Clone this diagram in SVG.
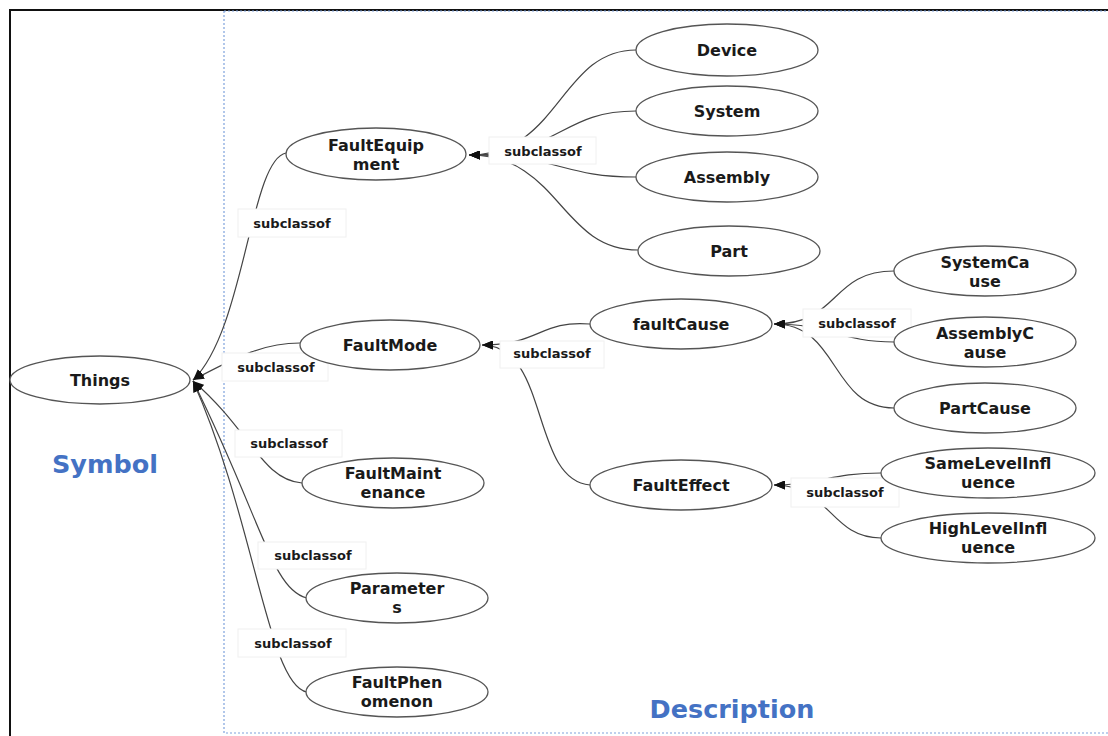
<svg xmlns="http://www.w3.org/2000/svg" width="1108" height="736" viewBox="0 0 1108 736">
<style>
.node ellipse{fill:#fff;stroke:#555;stroke-width:1.3}
.node text{font-family:"DejaVu Sans","Noto Sans",sans-serif;font-weight:bold;font-size:16px;fill:#1a1a1a;text-anchor:middle}
.edge{fill:none;stroke:#444;stroke-width:1.2;marker-end:url(#arr)}
.lbl rect{fill:#fff;stroke:#f0f0f0;stroke-width:1}
.lbl text{font-family:"DejaVu Sans","Noto Sans",sans-serif;font-weight:bold;font-size:13px;fill:#1a1a1a;text-anchor:middle}
.title{font-family:"DejaVu Sans","Noto Sans",sans-serif;font-weight:bold;font-size:25.5px;fill:#4472C4;text-anchor:middle}
</style>
<defs>
<marker id="arr" markerUnits="userSpaceOnUse" markerWidth="11" markerHeight="9" refX="11" refY="4.5" orient="auto">
<path d="M0,0 L11,4.5 L0,9 z" fill="#111"/>
</marker>
</defs>
<rect x="0" y="0" width="1108" height="736" fill="#fff"/>
<path d="M10,736 L10,10 L1108,10" fill="none" stroke="#111" stroke-width="2"/>
<path d="M224,11 L224,733 L1108,733 M224,11 L1108,11" fill="none" stroke="#7fa2dc" stroke-width="1.2" stroke-dasharray="2,2"/>
<g id="connectors">
<path class="edge" d="M286,153 C250,160 245,330 193,380"/>
<path class="edge" d="M300,343 C265,343 240,355 193,380"/>
<path class="edge" d="M302,483 C262,480 250,430 193,381"/>
<path class="edge" d="M307,598 C272,590 262,520 193,381"/>
<path class="edge" d="M307,692 C268,685 255,520 193,381"/>
<path class="edge" d="M636,50 C560,50 560,155 469,155"/>
<path class="edge" d="M636,111 C560,111 560,155 469,155"/>
<path class="edge" d="M636,177 C560,177 560,155 469,155"/>
<path class="edge" d="M638,250 C560,250 560,155 469,155"/>
<path class="edge" d="M590,324 C540,320 540,345 482,345"/>
<path class="edge" d="M590,485 C530,480 550,345 482,345"/>
<path class="edge" d="M894,271 C830,271 840,324 774,324"/>
<path class="edge" d="M894,342 C840,342 830,324 774,324"/>
<path class="edge" d="M894,408 C830,408 840,324 774,324"/>
<path class="edge" d="M881,473 C830,473 820,485 774,485"/>
<path class="edge" d="M881,538 C830,538 830,485 774,485"/>
</g>
<g id="labels">
<g class="lbl"><rect x="238" y="209" width="108" height="28"/><text x="292" y="228">subclassof</text></g>
<g class="lbl"><rect x="222" y="353" width="106" height="28"/><text x="276" y="372">subclassof</text></g>
<g class="lbl"><rect x="235" y="430" width="107" height="27"/><text x="289" y="448">subclassof</text></g>
<g class="lbl"><rect x="258" y="542" width="108" height="27"/><text x="313" y="560">subclassof</text></g>
<g class="lbl"><rect x="238" y="629" width="108" height="28"/><text x="293" y="648">subclassof</text></g>
<g class="lbl"><rect x="489" y="137" width="107" height="27"/><text x="543" y="156">subclassof</text></g>
<g class="lbl"><rect x="500" y="341" width="104" height="27"/><text x="552" y="358">subclassof</text></g>
<g class="lbl"><rect x="803" y="309" width="108" height="28"/><text x="857" y="328">subclassof</text></g>
<g class="lbl"><rect x="791" y="478" width="108" height="29"/><text x="845" y="497">subclassof</text></g>
</g>
<g id="Things" class="node"><ellipse cx="100" cy="380" rx="90" ry="24"/><text x="100" y="386">Things</text></g>
<g id="FaultEquipment" class="node"><ellipse cx="376" cy="154" rx="90" ry="26"/><text x="376" y="151">FaultEquip</text><text x="376" y="170">ment</text></g>
<g id="Device" class="node"><ellipse cx="727" cy="50" rx="91" ry="26"/><text x="727" y="56">Device</text></g>
<g id="System" class="node"><ellipse cx="727" cy="111" rx="91" ry="25"/><text x="727" y="117">System</text></g>
<g id="Assembly" class="node"><ellipse cx="727" cy="177" rx="91" ry="25"/><text x="727" y="183">Assembly</text></g>
<g id="Part" class="node"><ellipse cx="729" cy="251" rx="91" ry="25"/><text x="729" y="257">Part</text></g>
<g id="FaultMode" class="node"><ellipse cx="390" cy="345" rx="90" ry="25"/><text x="390" y="351">FaultMode</text></g>
<g id="faultCause" class="node"><ellipse cx="681" cy="324" rx="91" ry="25"/><text x="681" y="330">faultCause</text></g>
<g id="FaultEffect" class="node"><ellipse cx="681" cy="485" rx="91" ry="25"/><text x="681" y="491">FaultEffect</text></g>
<g id="SystemCause" class="node"><ellipse cx="985" cy="271" rx="91" ry="25"/><text x="985" y="268">SystemCa</text><text x="985" y="287">use</text></g>
<g id="AssemblyCause" class="node"><ellipse cx="985" cy="342" rx="91" ry="25"/><text x="985" y="339">AssemblyC</text><text x="985" y="358">ause</text></g>
<g id="PartCause" class="node"><ellipse cx="985" cy="408" rx="91" ry="25"/><text x="985" y="414">PartCause</text></g>
<g id="SameLevelInfluence" class="node"><ellipse cx="988" cy="473" rx="107" ry="25"/><text x="988" y="469">SameLevelInfl</text><text x="988" y="488">uence</text></g>
<g id="HighLevelInfluence" class="node"><ellipse cx="988" cy="538" rx="107" ry="25"/><text x="988" y="534">HighLevelInfl</text><text x="988" y="553">uence</text></g>
<g id="FaultMaintenance" class="node"><ellipse cx="393" cy="483" rx="91" ry="25"/><text x="393" y="479">FaultMaint</text><text x="393" y="498">enance</text></g>
<g id="Parameters" class="node"><ellipse cx="397" cy="598" rx="91" ry="25"/><text x="397" y="594">Parameter</text><text x="397" y="613">s</text></g>
<g id="FaultPhenomenon" class="node"><ellipse cx="397" cy="692" rx="91" ry="25"/><text x="397" y="688">FaultPhen</text><text x="397" y="707">omenon</text></g>
<text class="title" x="105" y="473">Symbol</text>
<text class="title" x="732" y="718">Description</text>
</svg>
